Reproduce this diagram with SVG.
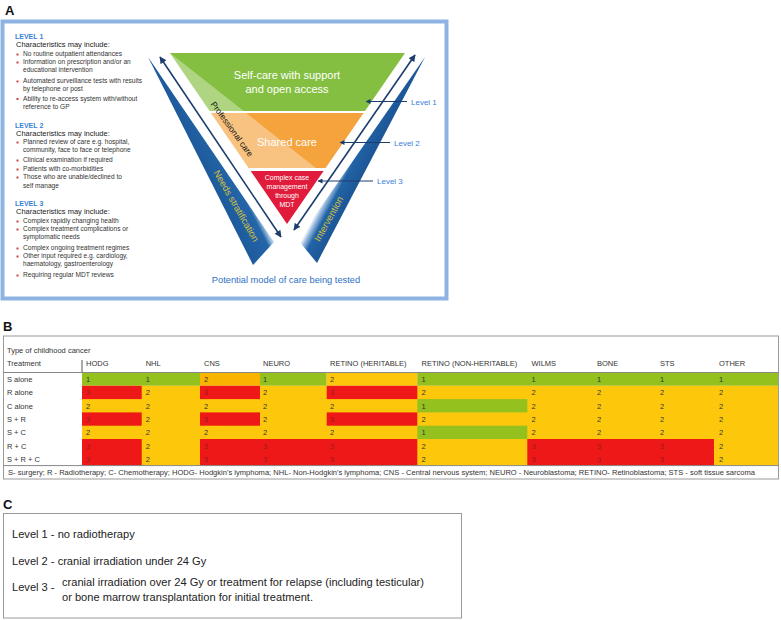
<svg xmlns="http://www.w3.org/2000/svg" width="781" height="620" viewBox="0 0 781 620">
<style>
text{font-family:"Liberation Sans",Arial,sans-serif}
.pl{font-size:13px;font-weight:bold;fill:#111}
.lvh{font-size:7px;font-weight:bold;fill:#3a7fd4}
.ch{font-size:7.5px;fill:#222}
.bt{font-size:6.6px;fill:#333}
.bul{fill:#cc4444}
.wt{fill:#fff;text-anchor:middle}
.lv{font-size:8px;fill:#3a7dd8}
.th{font-size:7.5px;fill:#333}
.cv{font-size:7.5px;fill:#333}
.cr{font-size:7.5px;fill:#9b1c1c}
.g{fill:#95c11f}.y{fill:#fdc80c}.o{fill:#f8b400}.r{fill:#ee1818}
.ct{font-size:11.1px;fill:#222}
.wtx{font-size:9.5px;fill:#d9c23a;text-anchor:middle}
</style>
<defs>
<marker id="ah" viewBox="0 0 10 10" refX="9" refY="5" markerWidth="5" markerHeight="5" orient="auto-start-reverse" markerUnits="userSpaceOnUse">
<path d="M0,0 L10,5 L0,10 z" fill="#1c3d6e"/>
</marker>
<marker id="ah2" viewBox="0 0 10 10" refX="9" refY="5" markerWidth="7" markerHeight="7" orient="auto-start-reverse" markerUnits="userSpaceOnUse">
<path d="M0,0 L10,5 L0,10 z" fill="#1c3d6e"/>
</marker>
<linearGradient id="wl" gradientUnits="userSpaceOnUse" x1="223" y1="206" x2="248" y2="193.4">
<stop offset="0" stop-color="#1d5a9c"/><stop offset="0.8" stop-color="#2466a8"/><stop offset="1" stop-color="#b3cde8"/>
</linearGradient>
<linearGradient id="wr" gradientUnits="userSpaceOnUse" x1="313" y1="218" x2="336" y2="230">
<stop offset="0" stop-color="#ffffff"/><stop offset="0.15" stop-color="#9dbde0"/><stop offset="0.38" stop-color="#2263a6"/><stop offset="1" stop-color="#1b5595"/>
</linearGradient>
</defs>

<!-- Panel A -->
<g id="panelA">
<text class="pl" x="5" y="14.5">A</text>
<rect x="2.5" y="21.5" width="444" height="277" fill="#fff" stroke="#8db3e2" stroke-width="4"/>
</g>

<g id="levels-text">
<text class="lvh" x="15" y="39">LEVEL 1</text>
<text class="ch" x="16" y="47">Characteristics may include:</text>
<rect class="bul" x="16.5" y="53.5" width="2" height="2"/><text class="bt" x="23" y="56">No routine outpatient attendances</text>
<rect class="bul" x="16.5" y="61.5" width="2" height="2"/><text class="bt" x="23" y="64">Information on prescription and/or an</text>
<text class="bt" x="23" y="72">educational intervention</text>
<rect class="bul" x="16.5" y="80.5" width="2" height="2"/><text class="bt" x="23" y="83">Automated surveillance tests with results</text>
<text class="bt" x="23" y="91">by telephone or post</text>
<rect class="bul" x="16.5" y="98" width="2" height="2"/><text class="bt" x="23" y="100.5">Ability to re-access system with/without</text>
<text class="bt" x="23" y="108.5">reference to GP</text>

<text class="lvh" x="15" y="128">LEVEL 2</text>
<text class="ch" x="16" y="136">Characteristics may include:</text>
<rect class="bul" x="16.5" y="141.5" width="2" height="2"/><text class="bt" x="23" y="144">Planned review of care e.g. hospital,</text>
<text class="bt" x="23" y="152">community, face to face or telephone</text>
<rect class="bul" x="16.5" y="159.5" width="2" height="2"/><text class="bt" x="23" y="162">Clinical examination if required</text>
<rect class="bul" x="16.5" y="168.5" width="2" height="2"/><text class="bt" x="23" y="171">Patients with co-morbidities</text>
<rect class="bul" x="16.5" y="176.5" width="2" height="2"/><text class="bt" x="23" y="179">Those who are unable/declined to</text>
<text class="bt" x="23" y="188">self manage</text>

<text class="lvh" x="15" y="205.5">LEVEL 3</text>
<text class="ch" x="16" y="213.5">Characteristics may include:</text>
<rect class="bul" x="16.5" y="220.5" width="2" height="2"/><text class="bt" x="23" y="223">Complex rapidly changing health</text>
<rect class="bul" x="16.5" y="228.5" width="2" height="2"/><text class="bt" x="23" y="231">Complex treatment complications or</text>
<text class="bt" x="23" y="239">symptomatic needs</text>
<rect class="bul" x="16.5" y="247.5" width="2" height="2"/><text class="bt" x="23" y="250">Complex ongoing treatment regimes</text>
<rect class="bul" x="16.5" y="255.5" width="2" height="2"/><text class="bt" x="23" y="258">Other input required e.g. cardiology,</text>
<text class="bt" x="23" y="266">haematology, gastroenterology</text>
<rect class="bul" x="16.5" y="274.5" width="2" height="2"/><text class="bt" x="23" y="277">Requiring regular MDT reviews</text>
</g>

<g id="wedge-needs">
<polygon points="148,57 253,265 274,242" fill="url(#wl)"/>
<text class="wtx" transform="translate(236,206) rotate(60)" y="3">Needs stratification</text>
</g>
<g id="wedge-intervention">
<polygon points="425,57 317,263 298,240" fill="url(#wr)"/>
<text class="wtx" transform="translate(329,219) rotate(-61)" y="3">Intervention</text>
</g>

<g id="level1-band">
<polygon points="170,53 405,53 365,111 209.7,111" fill="#84bf41"/>
<polygon points="170,53 243.7,111 209.7,111" fill="#fff" fill-opacity="0.35"/>
<text class="wt" x="287" y="79" font-size="11">Self-care with support</text>
<text class="wt" x="287" y="93" font-size="11">and open access</text>
</g>
<g id="level2-band">
<polygon points="211,113 363.6,113 325.6,168 248.7,168" fill="#f5a33c"/>
<polygon points="211,113 246.2,113 316,168 248.7,168" fill="#fff" fill-opacity="0.35"/>
<text class="wt" x="287" y="146" font-size="11">Shared care</text>
</g>
<g id="level3-band">
<polygon points="250.7,171 323.6,171 287,224" fill="#e01b3c"/>
<text class="wt" x="287" y="179.5" font-size="7">Complex case</text>
<text class="wt" x="287" y="188.5" font-size="7">management</text>
<text class="wt" x="287" y="197.5" font-size="7">through</text>
<text class="wt" x="287" y="206.5" font-size="7">MDT</text>
</g>
<g id="professional-care">
<text transform="translate(232,129) rotate(54)" text-anchor="middle" font-size="8.5" fill="#111" y="3">Professional care</text>
</g>

<g id="connectors" stroke="#1c3d6e" fill="none">
<line x1="160" y1="57" x2="281" y2="237" stroke-width="1.6" marker-start="url(#ah2)" marker-end="url(#ah2)"/>
<line x1="415" y1="55" x2="294" y2="230" stroke-width="1.6" marker-start="url(#ah2)" marker-end="url(#ah2)"/>
<line x1="407" y1="101.5" x2="366" y2="101.5" stroke-width="1" marker-end="url(#ah)"/>
<line x1="390" y1="142.5" x2="340" y2="142.5" stroke-width="1" marker-end="url(#ah)"/>
<line x1="373" y1="181" x2="318" y2="181" stroke-width="1" marker-end="url(#ah)"/>
</g>

<g id="level-labels">
<text class="lv" x="411" y="104.5">Level 1</text>
<text class="lv" x="394" y="145.5">Level 2</text>
<text class="lv" x="377" y="184">Level 3</text>
<text x="286" y="283" text-anchor="middle" font-size="9.3" fill="#2e6fc4">Potential model of care being tested</text>
</g>

<!-- Panel B -->
<g id="panelB">
<text class="pl" x="3" y="331" font-size="12.5">B</text>
<rect x="3.5" y="336" width="775" height="143" fill="#fff" stroke="#9a9a9a" stroke-width="1"/>
<text class="th" x="7" y="353">Type of childhood cancer</text>
<text class="th" x="7" y="366">Treatment</text>
<line x1="82" y1="360" x2="82" y2="372.5" stroke="#555" stroke-width="1"/>
<g class="th">
<text x="86" y="366">HODG</text><text x="145.7" y="366">NHL</text><text x="204" y="366">CNS</text><text x="263" y="366">NEURO</text>
<text x="330" y="366">RETINO (HERITABLE)</text><text x="421.5" y="366">RETINO (NON-HERITABLE)</text>
<text x="531.5" y="366">WILMS</text><text x="597" y="366">BONE</text><text x="660" y="366">STS</text><text x="719" y="366">OTHER</text>
</g>
<g class="th">
<text x="7" y="382">S alone</text><text x="7" y="395.3">R alone</text><text x="7" y="408.6">C alone</text>
<text x="7" y="421.9">S + R</text><text x="7" y="435.2">S + C</text><text x="7" y="448.5">R + C</text><text x="7" y="461.8">S + R + C</text>
</g>
<rect class="g" x="82" y="372.5" width="118" height="13.3"/>
<rect class="o" x="200" y="372.5" width="60" height="13.3"/>
<rect class="g" x="260" y="372.5" width="66.7" height="13.3"/>
<rect class="y" x="326.7" y="372.5" width="90.6" height="13.3"/>
<rect class="g" x="417.3" y="372.5" width="360.7" height="13.3"/>
<rect class="y" x="82" y="385.8" width="696" height="79.8"/>
<rect class="r" x="82" y="385.8" width="59.7" height="13.3"/>
<rect class="r" x="200" y="385.8" width="60" height="13.3"/>
<rect class="r" x="326.7" y="385.8" width="90.6" height="13.3"/>
<rect class="g" x="417.3" y="399.1" width="110" height="13.3"/>
<rect class="r" x="82" y="412.4" width="59.7" height="13.3"/>
<rect class="r" x="200" y="412.4" width="60" height="13.3"/>
<rect class="r" x="326.7" y="412.4" width="90.6" height="13.3"/>
<rect class="g" x="417.3" y="425.7" width="110" height="13.3"/>
<rect class="r" x="82" y="439" width="59.7" height="26.6"/>
<rect class="r" x="200" y="439" width="217.3" height="26.6"/>
<rect class="r" x="527.3" y="439" width="186.7" height="26.6"/>
<line x1="3.5" y1="372.5" x2="778.5" y2="372.5" stroke="#888" stroke-width="1"/>
<line x1="3.5" y1="465.6" x2="778.5" y2="465.6" stroke="#888" stroke-width="1"/>
<g class="cv">
<text x="86" y="382">1</text><text x="145.7" y="382">1</text><text x="204" y="382">2</text><text x="263" y="382">1</text><text x="330" y="382">2</text><text x="421.5" y="382">1</text><text x="531.5" y="382">1</text><text x="597" y="382">1</text><text x="660" y="382">1</text><text x="719" y="382">1</text>
<text x="145.7" y="395.3">2</text><text x="263" y="395.3">2</text><text x="421.5" y="395.3">2</text><text x="531.5" y="395.3">2</text><text x="597" y="395.3">2</text><text x="660" y="395.3">2</text><text x="719" y="395.3">2</text>
<text x="86" y="408.6">2</text><text x="145.7" y="408.6">2</text><text x="204" y="408.6">2</text><text x="263" y="408.6">2</text><text x="330" y="408.6">2</text><text x="421.5" y="408.6">1</text><text x="531.5" y="408.6">2</text><text x="597" y="408.6">2</text><text x="660" y="408.6">2</text><text x="719" y="408.6">2</text>
<text x="145.7" y="421.9">2</text><text x="263" y="421.9">2</text><text x="421.5" y="421.9">2</text><text x="531.5" y="421.9">2</text><text x="597" y="421.9">2</text><text x="660" y="421.9">2</text><text x="719" y="421.9">2</text>
<text x="86" y="435.2">2</text><text x="145.7" y="435.2">2</text><text x="204" y="435.2">2</text><text x="263" y="435.2">2</text><text x="330" y="435.2">2</text><text x="421.5" y="435.2">1</text><text x="531.5" y="435.2">2</text><text x="597" y="435.2">2</text><text x="660" y="435.2">2</text><text x="719" y="435.2">2</text>
<text x="145.7" y="448.5">2</text><text x="421.5" y="448.5">2</text><text x="719" y="448.5">2</text>
<text x="145.7" y="461.8">2</text><text x="421.5" y="461.8">2</text><text x="719" y="461.8">2</text>
</g>
<g class="cr">
<text x="86" y="395.3">3</text><text x="204" y="395.3">3</text><text x="330" y="395.3">3</text>
<text x="86" y="421.9">3</text><text x="204" y="421.9">3</text><text x="330" y="421.9">3</text>
<text x="86" y="448.5">3</text><text x="204" y="448.5">3</text><text x="263" y="448.5">3</text><text x="330" y="448.5">3</text><text x="531.5" y="448.5">3</text><text x="597" y="448.5">3</text><text x="660" y="448.5">3</text>
<text x="86" y="461.8">3</text><text x="204" y="461.8">3</text><text x="263" y="461.8">3</text><text x="330" y="461.8">3</text><text x="531.5" y="461.8">3</text><text x="597" y="461.8">3</text><text x="660" y="461.8">3</text>
</g>
<text x="8" y="475" font-size="6.6" fill="#333" textLength="747" lengthAdjust="spacingAndGlyphs">S- surgery; R - Radiotherapy; C- Chemotherapy; HODG- Hodgkin's lymphoma;  NHL-  Non-Hodgkin's lymphoma; CNS - Central nervous system; NEURO - Neuroblastoma; RETINO- Retinoblastoma; STS - soft tissue sarcoma</text>
</g>

<!-- Panel C -->
<g id="panelC">
<text class="pl" x="3" y="509" font-size="12.5">C</text>
<rect x="3.5" y="513.5" width="458" height="104.5" fill="#fff" stroke="#9a9a9a" stroke-width="1"/>
<text class="ct" x="12" y="538">Level 1 - no radiotherapy</text>
<text class="ct" x="12" y="565">Level 2 - cranial irradiation under 24 Gy</text>
<text class="ct" x="12" y="591">Level 3 -</text>
<text class="ct" x="62" y="586">cranial irradiation over 24 Gy or treatment for relapse (including testicular)</text>
<text class="ct" x="62" y="601">or bone marrow transplantation for initial treatment.</text>
</g>
</svg>
